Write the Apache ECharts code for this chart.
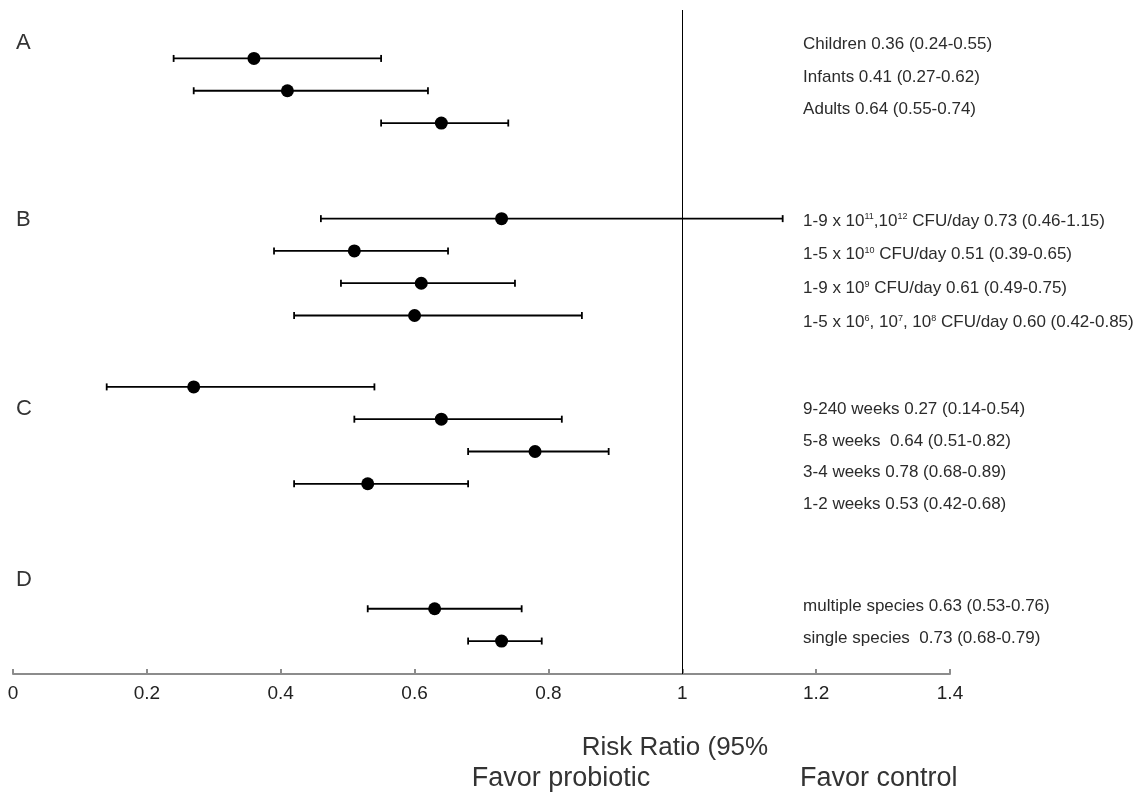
<!DOCTYPE html>
<html>
<head>
<meta charset="utf-8">
<script src="https://cdn.jsdelivr.net/npm/echarts@6/dist/echarts.min.js"></script>
<style>html,body{margin:0;padding:0;background:#fff}#c{width:1135px;height:799px}</style>
</head>
<body>
<div id="c"></div>
<script>
// ---- data ----
const groupLetters = ['A', 'B', 'C', 'D'];

const labelsA = ['Children 0.36 (0.24-0.55)', 'Infants 0.41 (0.27-0.62)', 'Adults 0.64 (0.55-0.74)'];
const estA = [0.36, 0.41, 0.64];
const lowA = [0.24, 0.27, 0.55];
const highA = [0.55, 0.62, 0.74];

const labelsB = [
  '1-9 x 10{sup|11},10{sup|12} CFU/day 0.73 (0.46-1.15)',
  '1-5 x 10{sup|10} CFU/day 0.51 (0.39-0.65)',
  '1-9 x 10{sup|9} CFU/day 0.61 (0.49-0.75)',
  '1-5 x 10{sup|6}, 10{sup|7}, 10{sup|8} CFU/day 0.60 (0.42-0.85)'
];
const estB = [0.73, 0.51, 0.61, 0.60];
const lowB = [0.46, 0.39, 0.49, 0.42];
const highB = [1.15, 0.65, 0.75, 0.85];

const labelsC = ['9-240 weeks 0.27 (0.14-0.54)', '5-8 weeks  0.64 (0.51-0.82)', '3-4 weeks 0.78 (0.68-0.89)', '1-2 weeks 0.53 (0.42-0.68)'];
const estC = [0.27, 0.64, 0.78, 0.53];
const lowC = [0.14, 0.51, 0.68, 0.42];
const highC = [0.54, 0.82, 0.89, 0.68];

const labelsD = ['multiple species 0.63 (0.53-0.76)', 'single species  0.73 (0.68-0.79)'];
const estD = [0.63, 0.73];
const lowD = [0.53, 0.68];
const highD = [0.76, 0.79];

const xTicks = [0, 0.2, 0.4, 0.6, 0.8, 1, 1.2, 1.4];

// ---- layout (row units on the hidden vertical scale) ----
const groups = [
  { labels: labelsA, est: estA, low: lowA, high: highA },
  { labels: labelsB, est: estB, low: lowB, high: highB },
  { labels: labelsC, est: estC, low: lowC, high: highC },
  { labels: labelsD, est: estD, low: lowD, high: highD }
];
const groupStart = [1.5, 6.46, 11.67, 18.54];
const textShift = [-0.43, 0.07, 0.69, -0.07];
const textStep = [1, 1.05, 0.98, 0.97];
const letterPos = [1.02, 6.5, 12.35, 17.65];
const yMax = 20.56;
const textX = 1.1805;

const barData = [], pointData = [], textData = [];
groups.forEach((g, gi) => {
  g.est.forEach((e, i) => {
    const y = groupStart[gi] + i;
    barData.push([g.low[i], g.high[i], y]);
    pointData.push([e, y]);
    textData.push([textX, groupStart[gi] + textShift[gi] + i * textStep[gi], g.labels[i]]);
  });
});
const letterData = groupLetters.map((l, i) => [0, letterPos[i], l]);

const chart = echarts.init(document.getElementById('c'), null, { renderer: 'canvas' });
const FONT = '"Liberation Sans", Arial, sans-serif';

chart.setOption({
  animation: false,
  backgroundColor: '#fff',
  grid: { left: 13, right: 185, top: 10, bottom: 125, containLabel: false },
  xAxis: {
    type: 'value', min: 0, max: 1.4, interval: 0.2, position: 'bottom',
    axisLine: { show: true, onZero: false, lineStyle: { color: '#8c8c8c', width: 2 } },
    axisTick: { show: true, inside: true, length: 5, lineStyle: { color: '#8c8c8c', width: 2 } },
    splitLine: { show: false },
    axisLabel: {
      color: '#222', fontSize: 19, fontFamily: FONT, margin: 10,
      formatter: v => { const t = xTicks.find(k => Math.abs(k - v) < 1e-6); return String(t !== undefined ? t : +v.toFixed(1)); }
    }
  },
  yAxis: { type: 'value', min: 0, max: yMax, inverse: true, show: false, splitLine: { show: false } },
  series: [
    {
      type: 'custom',
      data: barData,
      z: 2,
      renderItem: (params, api) => {
        const y = api.value(2);
        const a = api.coord([api.value(0), y]);
        const b = api.coord([api.value(1), y]);
        const h = 3.5;
        const st = { stroke: '#000', lineWidth: 1.8 };
        return {
          type: 'group',
          children: [
            { type: 'line', shape: { x1: a[0], y1: a[1], x2: b[0], y2: b[1] }, style: st },
            { type: 'line', shape: { x1: a[0], y1: a[1] - h, x2: a[0], y2: a[1] + h }, style: st },
            { type: 'line', shape: { x1: b[0], y1: b[1] - h, x2: b[0], y2: b[1] + h }, style: st }
          ]
        };
      }
    },
    {
      type: 'scatter',
      data: pointData,
      symbol: 'circle',
      symbolSize: 13,
      itemStyle: { color: '#000', opacity: 1 },
      z: 3,
      markLine: {
        silent: true, symbol: 'none',
        label: { show: false },
        lineStyle: { color: '#000', width: 1, type: 'solid' },
        data: [{ xAxis: 1 }]
      }
    },
    {
      type: 'custom',
      data: textData,
      z: 4,
      clip: false,
      renderItem: (params, api) => {
        const p = api.coord([api.value(0), api.value(1)]);
        const idx = params.dataIndex;
        return {
          type: 'text',
          x: p[0], y: p[1],
          style: {
            text: textData[idx][2],
            fill: '#2b2b2b',
            fontSize: 17,
            fontFamily: FONT,
            align: 'left',
            verticalAlign: 'middle',
            rich: {
              sup: { fontSize: 9, fill: '#2b2b2b', fontFamily: FONT, verticalAlign: 'bottom', padding: [0, 0, 9, 0] }
            }
          }
        };
      }
    },
    {
      type: 'custom',
      data: letterData,
      z: 4,
      clip: false,
      renderItem: (params, api) => {
        const p = api.coord([api.value(0), api.value(1)]);
        return {
          type: 'text',
          x: p[0] + 3, y: p[1],
          style: {
            text: letterData[params.dataIndex][2],
            fill: '#333', fontSize: 22, fontFamily: FONT,
            align: 'left', verticalAlign: 'middle'
          }
        };
      }
    }
  ],
  graphic: [
    { type: 'text', x: 675, y: 748, style: { text: 'Risk Ratio (95%', fill: '#333', fontSize: 26, fontFamily: FONT, align: 'center', verticalAlign: 'middle' } },
    { type: 'text', x: 561, y: 779, style: { text: 'Favor probiotic', fill: '#333', fontSize: 27, fontFamily: FONT, align: 'center', verticalAlign: 'middle' } },
    { type: 'text', x: 800, y: 779, style: { text: 'Favor control', fill: '#333', fontSize: 27, fontFamily: FONT, align: 'left', verticalAlign: 'middle' } }
  ]
});
</script>
</body>
</html>
